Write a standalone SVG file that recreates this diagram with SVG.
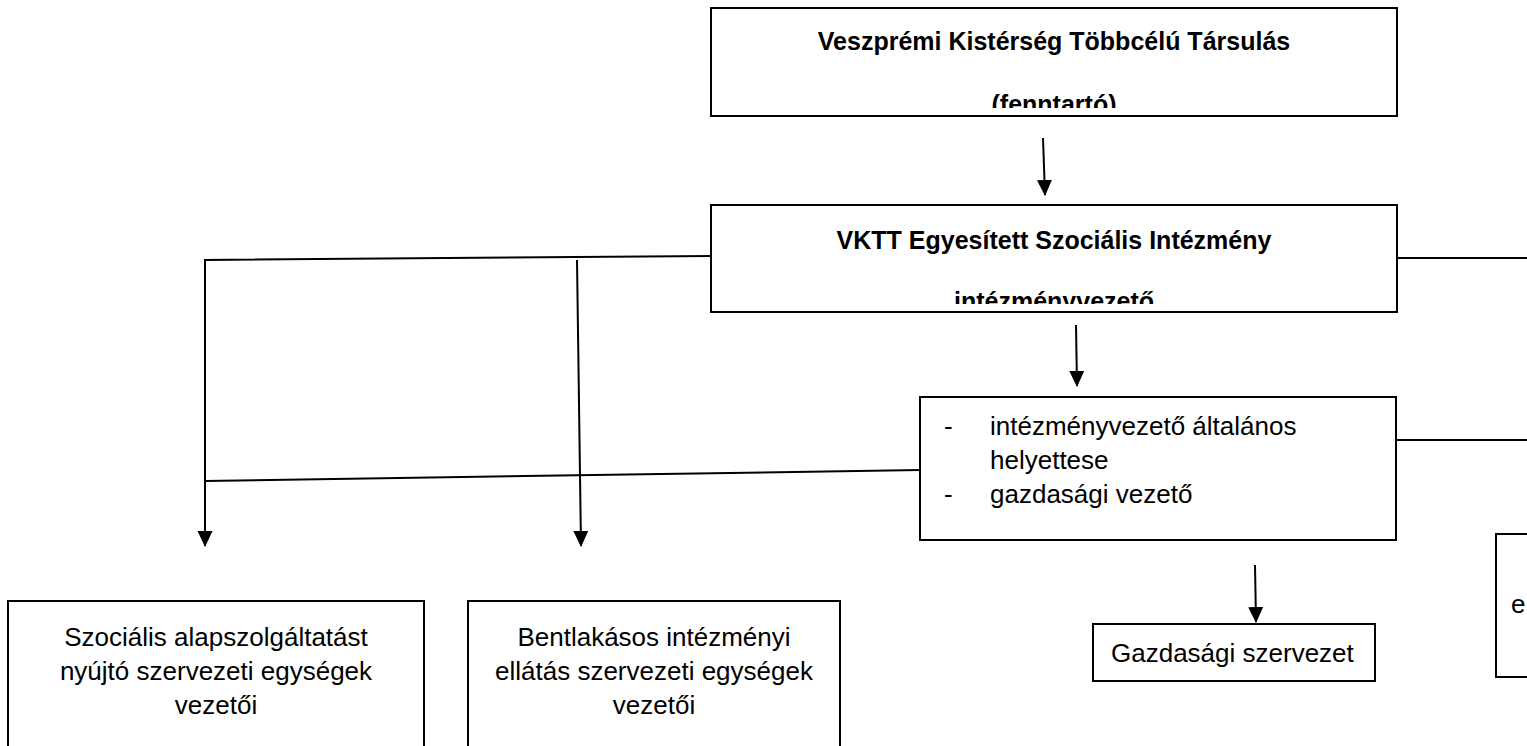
<svg xmlns="http://www.w3.org/2000/svg" width="1527" height="746" viewBox="0 0 1527 746">
<defs>
<style>
.box{fill:#fff;stroke:#000;stroke-width:2}
.t{font-family:"Liberation Sans",Arial,sans-serif;font-size:26px;fill:#000}
.b{font-family:"Liberation Sans",Arial,sans-serif;font-size:25px;font-weight:bold;fill:#000}
.c{stroke:#000;stroke-width:2;fill:none}
</style>
<marker id="ad" markerUnits="userSpaceOnUse" markerWidth="16" markerHeight="16" refX="15" refY="7.5" orient="auto" viewBox="0 0 16 15">
<path d="M0,0 L16,7.5 L0,15 Z" fill="#000"/>
</marker>
<clipPath id="c1"><rect x="712" y="9" width="684" height="99"/></clipPath>
<clipPath id="c2"><rect x="712" y="206" width="684" height="98"/></clipPath>
<clipPath id="c3"><rect x="1496" y="535" width="31" height="141"/></clipPath>
</defs>
<g id="connectors">
<line class="c" x1="1043" y1="138" x2="1045" y2="195" marker-end="url(#ad)"/>
<line class="c" x1="1076" y1="325" x2="1077" y2="386" marker-end="url(#ad)"/>
<line class="c" x1="1255" y1="565" x2="1256" y2="622" marker-end="url(#ad)"/>
<polyline class="c" points="711,256 205,260 205,546" marker-end="url(#ad)"/>
<line class="c" x1="577" y1="260" x2="581" y2="546" marker-end="url(#ad)"/>
<line class="c" x1="920" y1="470" x2="205" y2="481"/>
<line class="c" x1="1397" y1="258" x2="1527" y2="258"/>
<line class="c" x1="1396" y1="440" x2="1527" y2="440"/>
</g>
<g id="n-fenntarto">
<rect class="box" x="711" y="8" width="686" height="108"/>
<g clip-path="url(#c1)">
<text class="b" x="1054" y="50" text-anchor="middle">Veszprémi Kistérség Többcélú Társulás</text>
<text class="b" x="1054" y="113" text-anchor="middle">(fenntartó)</text>
</g>
</g>
<g id="n-vktt">
<rect class="box" x="711" y="205" width="686" height="107"/>
<g clip-path="url(#c2)">
<text class="b" x="1054" y="249" text-anchor="middle">VKTT Egyesített Szociális Intézmény</text>
<text class="b" x="1054" y="310" text-anchor="middle">intézményvezető</text>
</g>
</g>
<g id="n-helyettes">
<rect class="box" x="920" y="397" width="476" height="143"/>
<text class="t" x="944" y="435">-</text>
<text class="t" x="990" y="435">intézményvezető általános</text>
<text class="t" x="990" y="469">helyettese</text>
<text class="t" x="944" y="503">-</text>
<text class="t" x="990" y="503">gazdasági vezető</text>
</g>
<g id="n-gazdasagi">
<rect class="box" x="1093" y="624" width="282" height="57"/>
<text class="t" x="1111" y="662">Gazdasági szervezet</text>
</g>
<g id="n-right">
<rect class="box" x="1496" y="534" width="40" height="143"/>
<g clip-path="url(#c3)"><text class="t" x="1511" y="613">e</text></g>
</g>
<g id="n-alap">
<rect class="box" x="8" y="601" width="416" height="160"/>
<text class="t" x="216" y="646" text-anchor="middle">Szociális alapszolgáltatást</text>
<text class="t" x="216" y="680" text-anchor="middle">nyújtó szervezeti egységek</text>
<text class="t" x="216" y="714" text-anchor="middle">vezetői</text>
</g>
<g id="n-bentlakasos">
<rect class="box" x="468" y="601" width="372" height="160"/>
<text class="t" x="654" y="646" text-anchor="middle">Bentlakásos intézményi</text>
<text class="t" x="654" y="680" text-anchor="middle">ellátás szervezeti egységek</text>
<text class="t" x="654" y="714" text-anchor="middle">vezetői</text>
</g>
</svg>
